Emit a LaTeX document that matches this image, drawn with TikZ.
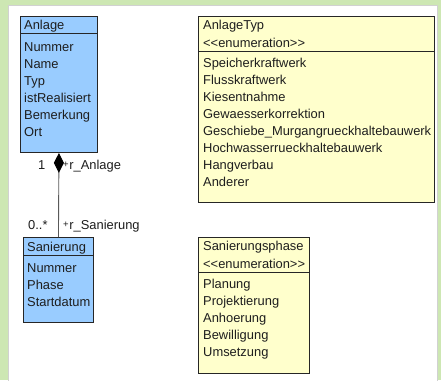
\documentclass[tikz,border=0pt]{standalone}
\usepackage{fontspec}
\setmainfont{Liberation Sans}[Ligatures=ResetAll]
\usetikzlibrary{arrows.meta}
\definecolor{bggreen}{HTML}{CDE7B3}
\definecolor{clsblue}{HTML}{99CCFF}
\definecolor{enumyellow}{HTML}{FFFFCC}
\definecolor{txt}{HTML}{1E1E1E}
\newcommand{\encl}{<\kern0pt<enumeration>\kern0pt>}
\newcommand{\rolplus}{{\fontsize{9.5}{9}\selectfont\raisebox{2.5pt}{+}}\kern0.6pt}
\tikzset{
  box/.style={draw=black!85, line width=0.9pt, inner sep=0pt, anchor=north west},
  classbox/.style={box, fill=clsblue},
  enumbox/.style={box, fill=enumyellow},
  sep/.style={draw=black!85, line width=0.9pt},
  lbl/.style={anchor=base west, inner sep=0pt, text=txt, font=\fontsize{12.9}{15}\selectfont},
  assoc/.style={draw=black!65, line width=0.9pt},
}
\begin{document}
\begin{tikzpicture}[x=1pt,y=-1pt]
\useasboundingbox (0,0) rectangle (441,380);
\fill[bggreen] (0,0) rectangle (441,380);
\filldraw[fill=white, draw=black!18, line width=0.8pt] (8.5,5.5) rectangle (437,381);

% Anlage
\node[classbox, minimum width=77pt, minimum height=136pt] (anlage) at (20,16) {};
\draw[sep] (20,33) -- (97,33);
\node[lbl] (anlageH) at (24,29.5) {Anlage};
\node[lbl] (a1) at (24,51) {Nummer};
\node[lbl] (a2) at (24,68) {Name};
\node[lbl] (a3) at (24,85) {Typ};
\node[lbl] (a4) at (24,102) {istRealisiert};
\node[lbl] (a5) at (24,119) {Bemerkung};
\node[lbl] (a6) at (24,136) {Ort};

% Sanierung
\node[classbox, minimum width=70pt, minimum height=85pt] (san) at (23,237) {};
\draw[sep] (23,255) -- (93,255);
\node[lbl] (sanH) at (27,251) {Sanierung};
\node[lbl] (s1) at (27,272.5) {Nummer};
\node[lbl] (s2) at (27,289.5) {Phase};
\node[lbl] (s3) at (27,306.5) {Startdatum};

% association
\draw[assoc, {Diamond[length=20pt,width=10pt,black]}-] (anlage.south) -- (san.north);
\node[lbl] (m1) at (38,169.5) {1};
\node[lbl] (r1) at (63,169.5) {\rolplus r\_Anlage};
\node[lbl] (m2) at (28,229.5) {0..*};
\node[lbl] (r2) at (63,229.5) {\rolplus r\_Sanierung};

% AnlageTyp
\node[enumbox, minimum width=236pt, minimum height=186pt] (atyp) at (198,16) {};
\draw[sep] (198,51.5) -- (434,51.5);
\node[lbl] (atH) at (203,29.5) {AnlageTyp};
\node[lbl] (atS) at (203,47.5) {\encl};
\node[lbl] (t1) at (203,67.5) {Speicherkraftwerk};
\node[lbl] (t2) at (203,84.5) {Flusskraftwerk};
\node[lbl] (t3) at (203,101.5) {Kiesentnahme};
\node[lbl] (t4) at (203,118.5) {Gewaesserkorrektion};
\node[lbl] (t5) at (203,135.5) {Geschiebe\_Murgangrueckhaltebauwerk};
\node[lbl] (t6) at (203,152.5) {Hochwasserrueckhaltebauwerk};
\node[lbl] (t7) at (203,169.5) {Hangverbau};
\node[lbl] (t8) at (203,186.5) {Anderer};

% Sanierungsphase
\node[enumbox, minimum width=111pt, minimum height=136pt] (sphase) at (198,237) {};
\draw[sep] (198,272) -- (309,272);
\node[lbl] (spH) at (203,250) {Sanierungsphase};
\node[lbl] (spS) at (203,268) {\encl};
\node[lbl] (p1) at (203,288.5) {Planung};
\node[lbl] (p2) at (203,305.5) {Projektierung};
\node[lbl] (p3) at (203,322.5) {Anhoerung};
\node[lbl] (p4) at (203,339.5) {Bewilligung};
\node[lbl] (p5) at (203,356.5) {Umsetzung};
\end{tikzpicture}
\end{document}
